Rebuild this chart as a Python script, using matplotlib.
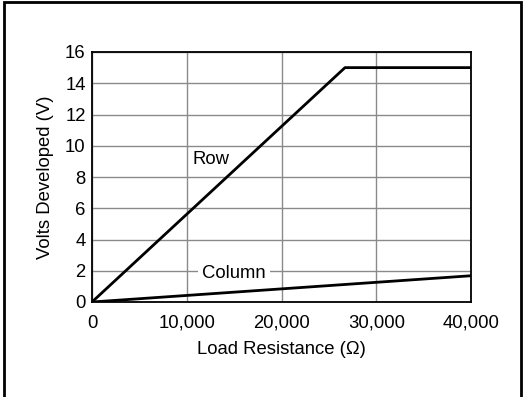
import matplotlib
matplotlib.use("Agg")
import matplotlib.pyplot as plt
from matplotlib.patches import Rectangle

# data
row_x = [0, 26700, 40000]
row_v = [0, 15, 15]
col_x = [0, 40000]
col_v = [0, 1.68]
x_ticks = [0, 10000, 20000, 30000, 40000]
x_labels = ["0", "10,000", "20,000", "30,000", "40,000"]
y_ticks = [0, 2, 4, 6, 8, 10, 12, 14, 16]

plt.rcParams['font.family'] = ['Liberation Sans', 'DejaVu Sans']
fs = 13.3

fig = plt.figure(figsize=(5.26, 3.97), dpi=100)
ax = fig.add_axes([92/526, 1 - 302/397, 379/526, 250/397])

ax.plot(row_x, row_v, color="black", lw=2, zorder=3, solid_capstyle="butt")
ax.plot(col_x, col_v, color="black", lw=2, zorder=3, solid_capstyle="butt")

ax.set_xlim(0, 40000)
ax.set_ylim(0, 16)
ax.set_xticks(x_ticks)
ax.set_xticklabels(x_labels)
ax.set_yticks(y_ticks)
ax.tick_params(length=0, labelsize=fs, colors="black")
ax.tick_params(axis="x", pad=9)
ax.tick_params(axis="y", pad=4.5)
ax.grid(True, color="#8a8a8a", lw=1)
ax.set_axisbelow(True)
for s in ax.spines.values():
    s.set_linewidth(1.3)
    s.set_color("black")

ax.text(12600, 9.1, "Row", fontsize=fs, ha="center", va="center")
ax.text(15000, 1.85, "Column", fontsize=fs, ha="center", va="center",
        bbox=dict(facecolor="white", edgecolor="none", pad=3), zorder=2)

ax.set_xlabel("Load Resistance (\u03a9)", fontsize=fs, labelpad=7)
ax.set_ylabel("Volts Developed (V)", fontsize=fs, labelpad=8)

fig.patches.append(Rectangle((4/526, -0.02), 517/526, 1.0 - 2/397 + 0.02,
                             transform=fig.transFigure, fill=False,
                             edgecolor="black", lw=2))

fig.savefig("out.png", dpi=100)
